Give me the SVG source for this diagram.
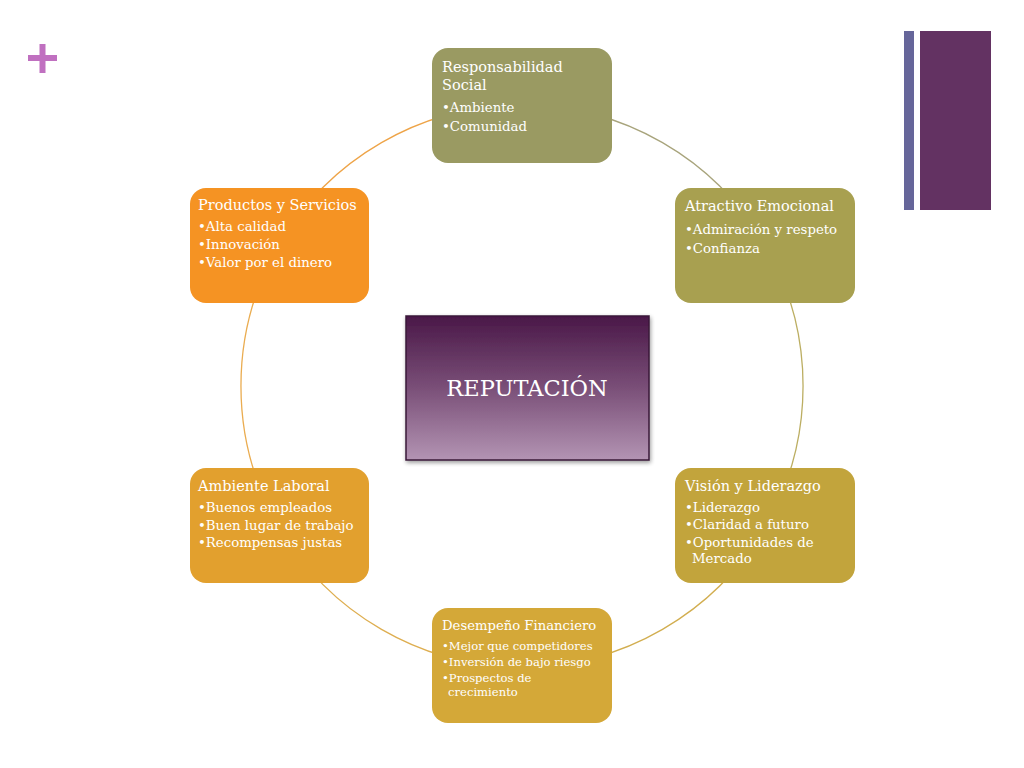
<svg xmlns="http://www.w3.org/2000/svg" width="1024" height="768" viewBox="0 0 1024 768">
<defs>
<linearGradient id="cg" x1="0" y1="0" x2="0" y2="1">
<stop offset="0" stop-color="#4a1848"/>
<stop offset="0.5" stop-color="#7a4f78"/>
<stop offset="1" stop-color="#b394b3"/>
</linearGradient>
<filter id="sh" x="-10%" y="-10%" width="120%" height="125%">
<feGaussianBlur in="SourceAlpha" stdDeviation="2"/>
<feOffset dx="1" dy="2"/>
<feComponentTransfer><feFuncA type="linear" slope="0.4"/></feComponentTransfer>
<feMerge><feMergeNode/><feMergeNode in="SourceGraphic"/></feMerge>
</filter>
</defs>
<style>
.t{font-family:"DejaVu Serif","Liberation Serif",serif;fill:#ffffff;font-size:14.5px}
.t2{font-family:"DejaVu Serif","Liberation Serif",serif;fill:#ffffff;font-size:13.2px}
.b{font-family:"DejaVu Serif","Liberation Serif",serif;fill:#ffffff;font-size:13.3px}
.s{font-family:"DejaVu Serif","Liberation Serif",serif;fill:#ffffff;font-size:11.6px}
.arc{fill:none;stroke-width:1.3}
</style>
<rect width="1024" height="768" fill="#ffffff"/>
<g id="decor">
<rect x="28" y="55" width="29" height="6" fill="#c070c0"/>
<rect x="39.5" y="44" width="6" height="29" fill="#c070c0"/>
<rect x="904" y="31" width="10" height="179" fill="#66669a"/>
<rect x="920" y="31" width="71" height="179" fill="#633262"/>
</g>
<g id="connectors">
<path class="arc" stroke="#a8a47c" d="M522,105 A281,281 0 0 1 765.4,245.5"/>
<path class="arc" stroke="#bcae62" d="M765.4,245.5 A281,281 0 0 1 765.4,526.5"/>
<path class="arc" stroke="#d2ae50" d="M765.4,526.5 A281,281 0 0 1 522,667"/>
<path class="arc" stroke="#deae50" d="M522,667 A281,281 0 0 1 278.6,526.5"/>
<path class="arc" stroke="#eaac50" d="M278.6,526.5 A281,281 0 0 1 278.6,245.5"/>
<path class="arc" stroke="#eea448" d="M278.6,245.5 A281,281 0 0 1 522,105"/>
</g>
<g id="n-responsabilidad">
<rect x="432" y="48" width="180" height="115" rx="16" fill="#9a9a62"/>
<text class="t" x="442" y="72">Responsabilidad</text>
<text class="t" x="442" y="90">Social</text>
<text class="b" x="442" y="112">•Ambiente</text>
<text class="b" x="442" y="131">•Comunidad</text>
</g>
<g id="n-atractivo">
<rect x="675" y="188" width="180" height="115" rx="16" fill="#a8a050"/>
<text class="t" x="685" y="211">Atractivo Emocional</text>
<text class="b" x="685" y="234">•Admiración y respeto</text>
<text class="b" x="685" y="253">•Confianza</text>
</g>
<g id="n-vision">
<rect x="675" y="468" width="180" height="115" rx="16" fill="#c2a43c"/>
<text class="t" x="685" y="491">Visión y Liderazgo</text>
<text class="b" x="685" y="512">•Liderazgo</text>
<text class="b" x="685" y="529">•Claridad a futuro</text>
<text class="b" x="685" y="547">•Oportunidades de</text>
<text class="b" x="692" y="563">Mercado</text>
</g>
<g id="n-desempeno">
<rect x="432" y="608" width="180" height="115" rx="16" fill="#d4a838"/>
<text class="t2" x="442" y="630">Desempeño Financiero</text>
<text class="s" x="442" y="650">•Mejor que competidores</text>
<text class="s" x="442" y="666">•Inversión de bajo riesgo</text>
<text class="s" x="442" y="682">•Prospectos de</text>
<text class="s" x="448" y="696">crecimiento</text>
</g>
<g id="n-ambiente">
<rect x="190" y="468" width="179" height="115" rx="16" fill="#e2a02e"/>
<text class="t" x="198" y="491">Ambiente Laboral</text>
<text class="b" x="198" y="512">•Buenos empleados</text>
<text class="b" x="198" y="530">•Buen lugar de trabajo</text>
<text class="b" x="198" y="547">•Recompensas justas</text>
</g>
<g id="n-productos">
<rect x="190" y="188" width="179" height="115" rx="16" fill="#f59323"/>
<text class="t" x="198" y="210">Productos y Servicios</text>
<text class="b" x="198" y="231">•Alta calidad</text>
<text class="b" x="198" y="249">•Innovación</text>
<text class="b" x="198" y="267">•Valor por el dinero</text>
</g>
<g id="n-reputacion">
<rect x="406" y="316" width="243" height="144" fill="url(#cg)" stroke="#3a1838" stroke-width="1.5" filter="url(#sh)"/>
<text x="527" y="396" text-anchor="middle" font-family="DejaVu Serif, Liberation Serif, serif" font-size="22.5" fill="#ffffff">REPUTACIÓN</text>
</g>
</svg>
